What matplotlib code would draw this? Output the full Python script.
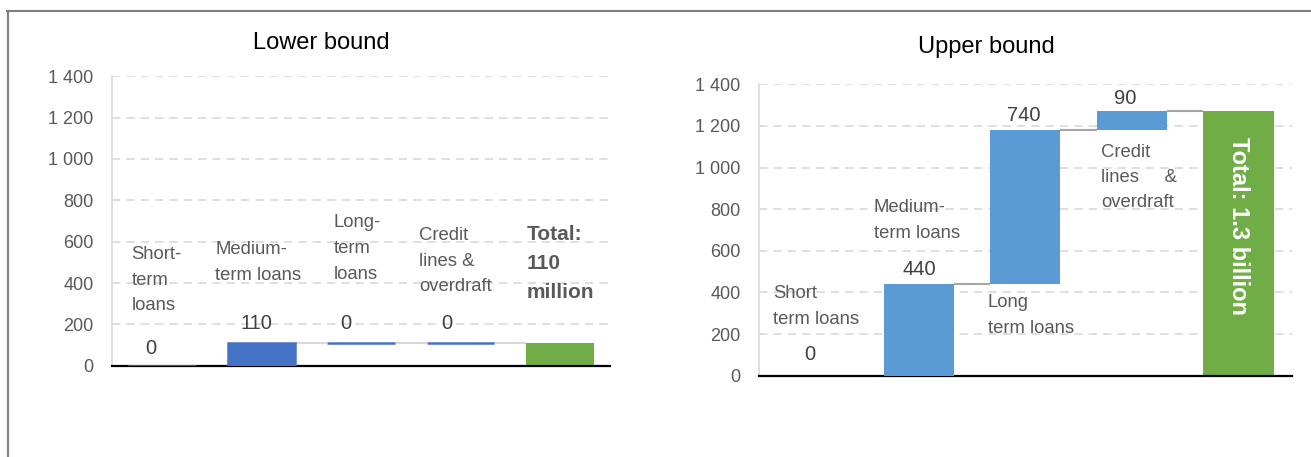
import matplotlib
matplotlib.use("Agg")
import matplotlib.pyplot as plt
from matplotlib.ticker import FuncFormatter
from matplotlib.lines import Line2D

plt.rcParams['font.family'] = ['Liberation Sans', 'DejaVu Sans']

# ---------------- data ----------------
lower_titles = "Lower bound"
upper_titles = "Upper bound"
lower_cats = ["Short-\nterm\nloans", "Medium-\nterm loans", "Long-\nterm\nloans",
              "Credit\nlines &\noverdraft"]
upper_cats = ["Short\nterm loans", "Medium-\nterm loans", "Long\nterm loans",
              "Credit\nlines     &\noverdraft"]
lower_values = [0, 110, 0, 0]
upper_values = [0, 440, 740, 90]
lower_value_labels = ["0", "110", "0", "0"]
upper_value_labels = ["0", "440", "740", "90"]
lower_total_label = "Total:\n110\nmillion"
upper_total_label = "Total: 1.3 billion"
yticks = [0, 200, 400, 600, 800, 1000, 1200, 1400]

# ---------------- style ----------------
W, H = 1311, 457
fig = plt.figure(figsize=(W / 100, H / 100), dpi=100)

def fx(px):
    return px / W

def fy(py):
    return 1 - py / H

GRID = "#d9d9d9"
TXT = "#595959"
VAL = "#404040"
GREEN = "#70ad47"


def setup_axes(ax, pad):
    ax.set_xlim(-0.5, 4.5)
    ax.set_ylim(0, 1400)
    ax.set_yticks(yticks)
    ax.yaxis.set_major_formatter(FuncFormatter(lambda v, p: f"{int(v):,}".replace(",", " ")))
    ax.set_xticks([])
    ax.tick_params(axis='y', length=0, pad=pad, labelsize=13, labelcolor=TXT)
    for s in ["top", "right"]:
        ax.spines[s].set_visible(False)
    ax.spines["left"].set_color(GRID)
    ax.spines["left"].set_linewidth(1.2)
    ax.spines["bottom"].set_color("black")
    ax.spines["bottom"].set_linewidth(1.6)
    ax.spines["bottom"].set_zorder(5)
    ax.set_axisbelow(True)
    for t in yticks[1:]:
        ax.axhline(t, color=GRID, lw=1.2, dashes=(5.0, 3.6), zorder=0)


def waterfall(ax, values, color, width, conn_color, edge):
    starts = []
    cum = 0
    for v in values:
        starts.append(cum)
        cum += v
    xs = list(range(len(values)))
    ax.bar(xs, values, bottom=starts, width=width, color=color,
           edgecolor=color if edge else "none", linewidth=edge, zorder=6)
    ax.bar([len(values)], [cum], width=width, color=GREEN, zorder=3)
    levels = [s + v for s, v in zip(starts, values)]
    for i, lv in enumerate(levels):
        ax.plot([i + width / 2, i + 1 - width / 2], [lv, lv], color=conn_color,
                lw=1.5, zorder=2, solid_capstyle='butt')
    return starts, levels, cum


# ---------------- left panel ----------------
axL = fig.add_axes([fx(112), fy(365.7), fx(498), (365.7 - 76.3) / H])
setup_axes(axL, 13.4)
sL, lvL, totL = waterfall(axL, lower_values, "#4472c4", 0.68, "#d9d9d9", 1.8)

lval_dx = [-0.11, -0.045, -0.15, -0.135]
lval_dy = [81, 92, 92, 92]
for i, (lab, lv) in enumerate(zip(lower_value_labels, lvL)):
    axL.text(i + lval_dx[i], lv + lval_dy[i], lab, ha='center', va='center',
             fontsize=14.5, color=VAL)

lcat_pos = [(-0.306, 575), (0.539, 598), (1.722, 729), (2.58, 667)]
for lab, (x, y) in zip(lower_cats, lcat_pos):
    axL.text(x, y + 3, lab, ha='left', va='top', fontsize=13.3, color=TXT,
             linespacing=1.66)
axL.text(3.667, 681, lower_total_label, ha='left', va='top', fontsize=15,
         color=TXT, fontweight='bold', linespacing=1.68)

fig.text(fx(321), fy(49), lower_titles, ha='center', va='baseline', fontsize=17,
         color='black')

# ---------------- right panel ----------------
axR = fig.add_axes([fx(758.8), fy(375.7), fx(533), (375.7 - 84.3) / H])
setup_axes(axR, 13)
sR, lvR, totR = waterfall(axR, upper_values, "#5b9bd5", 0.66, "#a5a5a5", 0)

rval_dx = [-0.02, 0.01, -0.012, -0.066]
rval_dy = [101, 72, 72, 63]
for i, (lab, lv) in enumerate(zip(upper_value_labels, lvR)):
    axR.text(i + rval_dx[i], lv + rval_dy[i], lab, ha='center', va='center',
             fontsize=14.5, color=VAL)

rcat_pos = [(-0.368, 431), (0.579, 844), (1.65, 388), (2.713, 1112)]
for lab, (x, y) in zip(upper_cats, rcat_pos):
    axR.text(x, y + 3, lab, ha='left', va='top', fontsize=13.3, color=TXT,
             linespacing=1.63)
axR.text(4, totR * 0.567, upper_total_label, ha='center', va='center',
         rotation=-90, fontsize=17, color='white', fontweight='bold', zorder=7)

fig.text(fx(986), fy(52.7), upper_titles, ha='center', va='baseline', fontsize=17,
         color='black')

# ---------------- outer frame ----------------
fig.add_artist(Line2D([fx(8), fx(8)], [fy(11), 0], transform=fig.transFigure,
                      color="#808080", lw=1.5))
fig.add_artist(Line2D([fx(7.3), 1], [fy(11), fy(11)], transform=fig.transFigure,
                      color="#808080", lw=1.5))

fig.savefig("out.png", dpi=100)
